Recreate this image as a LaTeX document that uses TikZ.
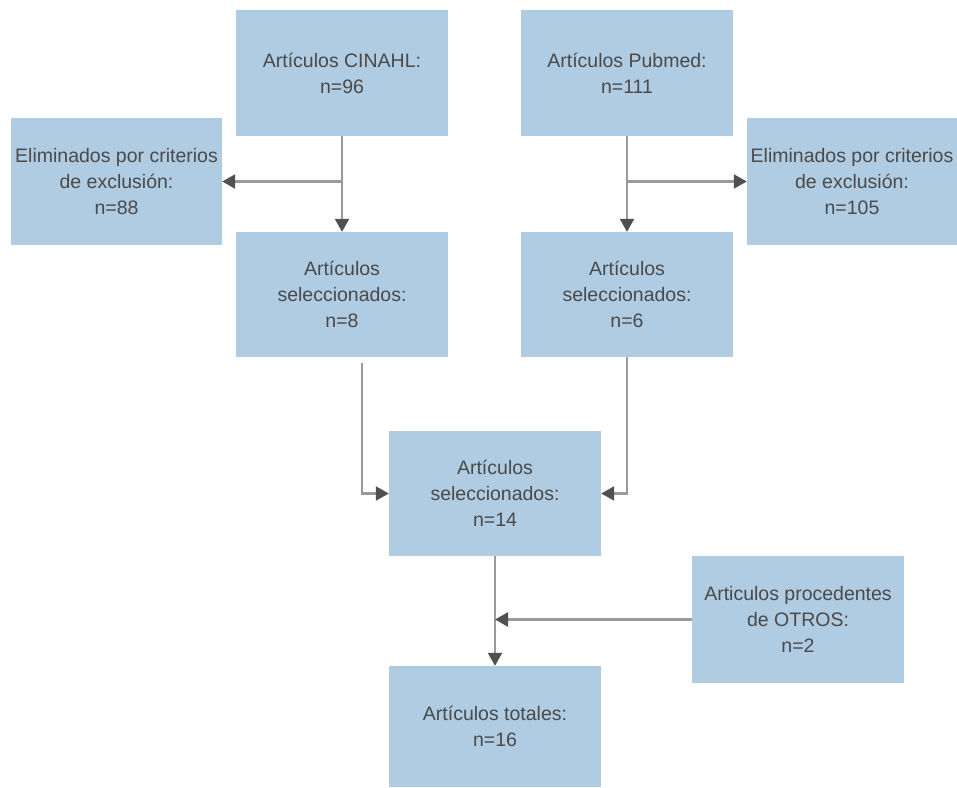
\documentclass[tikz,border=0pt]{standalone}
\usepackage{fontspec}
\setmainfont{Liberation Sans}
\usetikzlibrary{arrows.meta}
\definecolor{boxfill}{HTML}{B0CCE2}
\definecolor{txt}{HTML}{4A4A4A}
\definecolor{linegray}{HTML}{9A9A9A}
\definecolor{tipgray}{HTML}{505050}
\begin{document}
\begin{tikzpicture}[x=1pt,y=-1pt,
  box/.style={draw=none,fill=boxfill,text=txt,align=center,inner sep=0pt,
    minimum width=212pt,minimum height=126pt,
    font=\fontsize{19.5}{26}\selectfont},
  conn/.style={draw=linegray,line width=2.2pt,
    -{Triangle[length=13pt,width=14pt,color=tipgray]}}]
\useasboundingbox (0,0) rectangle (957,787);
\node[box] (cin) at (342,73) {Artículos CINAHL:\\n=96};
\node[box] (pub) at (627,73) {Artículos Pubmed:\\n=111};
\node[box,minimum width=211pt,minimum height=127pt] (elimL) at (116.5,181.5) {Eliminados por criterios\\de exclusión:\\n=88};
\node[box,minimum width=210pt,minimum height=127pt] (elimR) at (852,181.5) {Eliminados por criterios\\de exclusión:\\n=105};
\node[box,minimum height=125pt] (selL) at (342,294.5) {Artículos\\seleccionados:\\n=8};
\node[box,minimum height=125pt] (selR) at (627,294.5) {Artículos\\seleccionados:\\n=6};
\node[box,minimum height=125pt] (selC) at (495,493.5) {Artículos\\seleccionados:\\n=14};
\node[box,minimum height=127pt] (otros) at (798,619.5) {Articulos procedentes\\de OTROS:\\n=2};
\node[box,minimum height=121pt] (tot) at (495,726.5) {Artículos totales:\\n=16};
\draw[conn] (cin.south) -- (selL.north);
\draw[conn] (cin.south |- elimL.east) -- (elimL.east);
\draw[conn] (pub.south) -- (selR.north);
\draw[conn] (pub.south |- elimR.west) -- (elimR.west);
\draw[conn] ([xshift=20pt,yshift=-6pt]selL.south) |- (selC.west);
\draw[conn] (selR.south) |- (selC.east);
\draw[conn] (selC.south) -- (tot.north);
\draw[conn] (otros.west) -- (selC.south |- otros.west);
\end{tikzpicture}
\end{document}
